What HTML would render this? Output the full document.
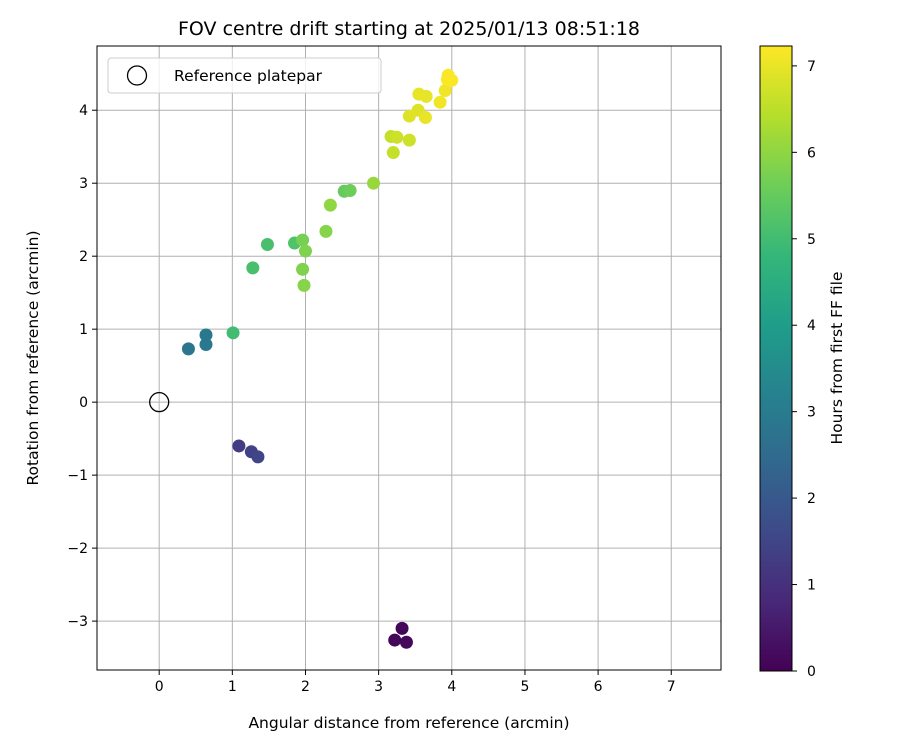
<!DOCTYPE html>
<html><head><meta charset="utf-8"><style>
body{margin:0;background:#fff;}
svg text{font-family:"DejaVu Sans","Liberation Sans",sans-serif;fill:#000;}
</style></head><body>
<svg id="chart" width="900" height="750" xmlns="http://www.w3.org/2000/svg"></svg>
<script>
const xs=[3.32,3.22,3.38,1.09,1.26,1.35,0.40,0.64,0.64,1.01,1.28,1.48,1.85,1.96,2.0,1.96,1.98,2.28,2.34,2.53,2.61,2.93,3.17,3.25,3.2,3.42,3.42,3.54,3.55,3.65,3.64,3.84,3.91,3.94,3.95,4.0];
const ys=[-3.10,-3.26,-3.29,-0.60,-0.68,-0.75,0.73,0.92,0.79,0.95,1.84,2.16,2.18,2.22,2.07,1.82,1.60,2.34,2.70,2.89,2.90,3.0,3.64,3.63,3.42,3.59,3.92,4.0,4.22,4.19,3.90,4.11,4.27,4.42,4.48,4.41];
const hours=[0.1,0.1,0.15,1.3,1.4,1.5,2.8,2.9,2.9,5.0,5.1,5.1,5.2,5.7,5.8,5.8,5.9,5.9,6.0,5.5,5.6,6.1,6.6,6.7,6.6,6.7,6.9,6.9,7.0,7.0,7.0,7.1,7.1,7.2,7.2,7.2];
const xTicks=[0,1,2,3,4,5,6,7], yTicks=[-3,-2,-1,0,1,2,3,4], cTicks=[0,1,2,3,4,5,6,7];
const L=97,R=721,T=46,B=670, X0=-0.85,X1=7.68,Y0=-3.67,Y1=4.88, CMAX=7.23;
const sx=v=>L+(v-X0)/(X1-X0)*(R-L), sy=v=>B-(v-Y0)/(Y1-Y0)*(B-T);
const vir=[[68,1,84],[72,40,120],[62,74,137],[49,104,142],[38,130,142],[31,158,137],[53,183,121],[110,206,88],[181,222,43],[253,231,37]];
function col(h){let t=Math.max(0,Math.min(1,h/CMAX))*(vir.length-1);let i=Math.min(Math.floor(t),vir.length-2),f=t-i;
 return 'rgb('+vir[i].map((c,k)=>Math.round(c+(vir[i+1][k]-c)*f)).join(',')+')';}
const svg=document.getElementById('chart');const NS='http://www.w3.org/2000/svg';
function mk(tag,a,txt){const e=document.createElementNS(NS,tag);for(const k in a)e.setAttribute(k,a[k]);if(txt!==undefined)e.textContent=txt;svg.appendChild(e);return e;}
let e;
xTicks.forEach(v=>{e=mk('line',{x1:sx(v),x2:sx(v),y1:T,y2:B,stroke:'#b0b0b0','stroke-width':1});
 mk('line',{x1:sx(v),x2:sx(v),y1:B,y2:B+5,stroke:'#000'});
 e=mk('text',{x:sx(v),y:B+21,'text-anchor':'middle','font-size':14},String(v));});
yTicks.forEach(v=>{e=mk('line',{x1:L,x2:R,y1:sy(v),y2:sy(v),stroke:'#b0b0b0','stroke-width':1});
 mk('line',{x1:L-5,x2:L,y1:sy(v),y2:sy(v),stroke:'#000'});
 e=mk('text',{x:L-9,y:sy(v)+5,'text-anchor':'end','font-size':14},String(v).replace('-','\u2212'));});
xs.forEach((x,i)=>{e=mk('circle',{cx:sx(x),cy:sy(ys[i]),r:6.5,fill:col(hours[i])});});
e=mk('circle',{cx:sx(0),cy:sy(0),r:9.5,fill:'none',stroke:'#000','stroke-width':1.3});
e=mk('rect',{x:L,y:T,width:R-L,height:B-T,fill:'none',stroke:'#000','stroke-width':1});
e=mk('rect',{x:108,y:58,width:273,height:35,rx:3,fill:'rgba(255,255,255,0.8)',stroke:'#ccc'});
e=mk('circle',{cx:137,cy:75.5,r:9.5,fill:'none',stroke:'#000','stroke-width':1.3});
e=mk('text',{x:174,y:81,'font-size':15.5},'Reference platepar');
e=mk('text',{x:409,y:35,'text-anchor':'middle','font-size':19},'FOV centre drift starting at 2025/01/13 08:51:18');
e=mk('text',{x:409,y:728,'text-anchor':'middle','font-size':15.5},'Angular distance from reference (arcmin)');
e=mk('text',{x:38,y:358,'text-anchor':'middle','font-size':15.5,transform:'rotate(-90 38 358)'},'Rotation from reference (arcmin)');
const CL=760,CR=792,CT=46,CB=671, cy=v=>CB-v/CMAX*(CB-CT);
const defs=mk('defs',{});const g=document.createElementNS(NS,'linearGradient');g.setAttribute('id','vg');g.setAttribute('x1','0');g.setAttribute('y1','1');g.setAttribute('x2','0');g.setAttribute('y2','0');defs.appendChild(g);
vir.forEach((c,i)=>{const s=document.createElementNS(NS,'stop');s.setAttribute('offset',i/(vir.length-1));s.setAttribute('stop-color','rgb('+c.join(',')+')');g.appendChild(s);});
e=mk('rect',{x:CL,y:CT,width:CR-CL,height:CB-CT,fill:'url(#vg)',stroke:'#000'});
cTicks.forEach(v=>{mk('line',{x1:CR,x2:CR+5,y1:cy(v),y2:cy(v),stroke:'#000'});
 e=mk('text',{x:CR+15,y:cy(v)+5,'font-size':14},String(v));});
e=mk('text',{x:842,y:358,'text-anchor':'middle','font-size':15.5,transform:'rotate(-90 842 358)'},'Hours from first FF file');
</script>
</body></html>
